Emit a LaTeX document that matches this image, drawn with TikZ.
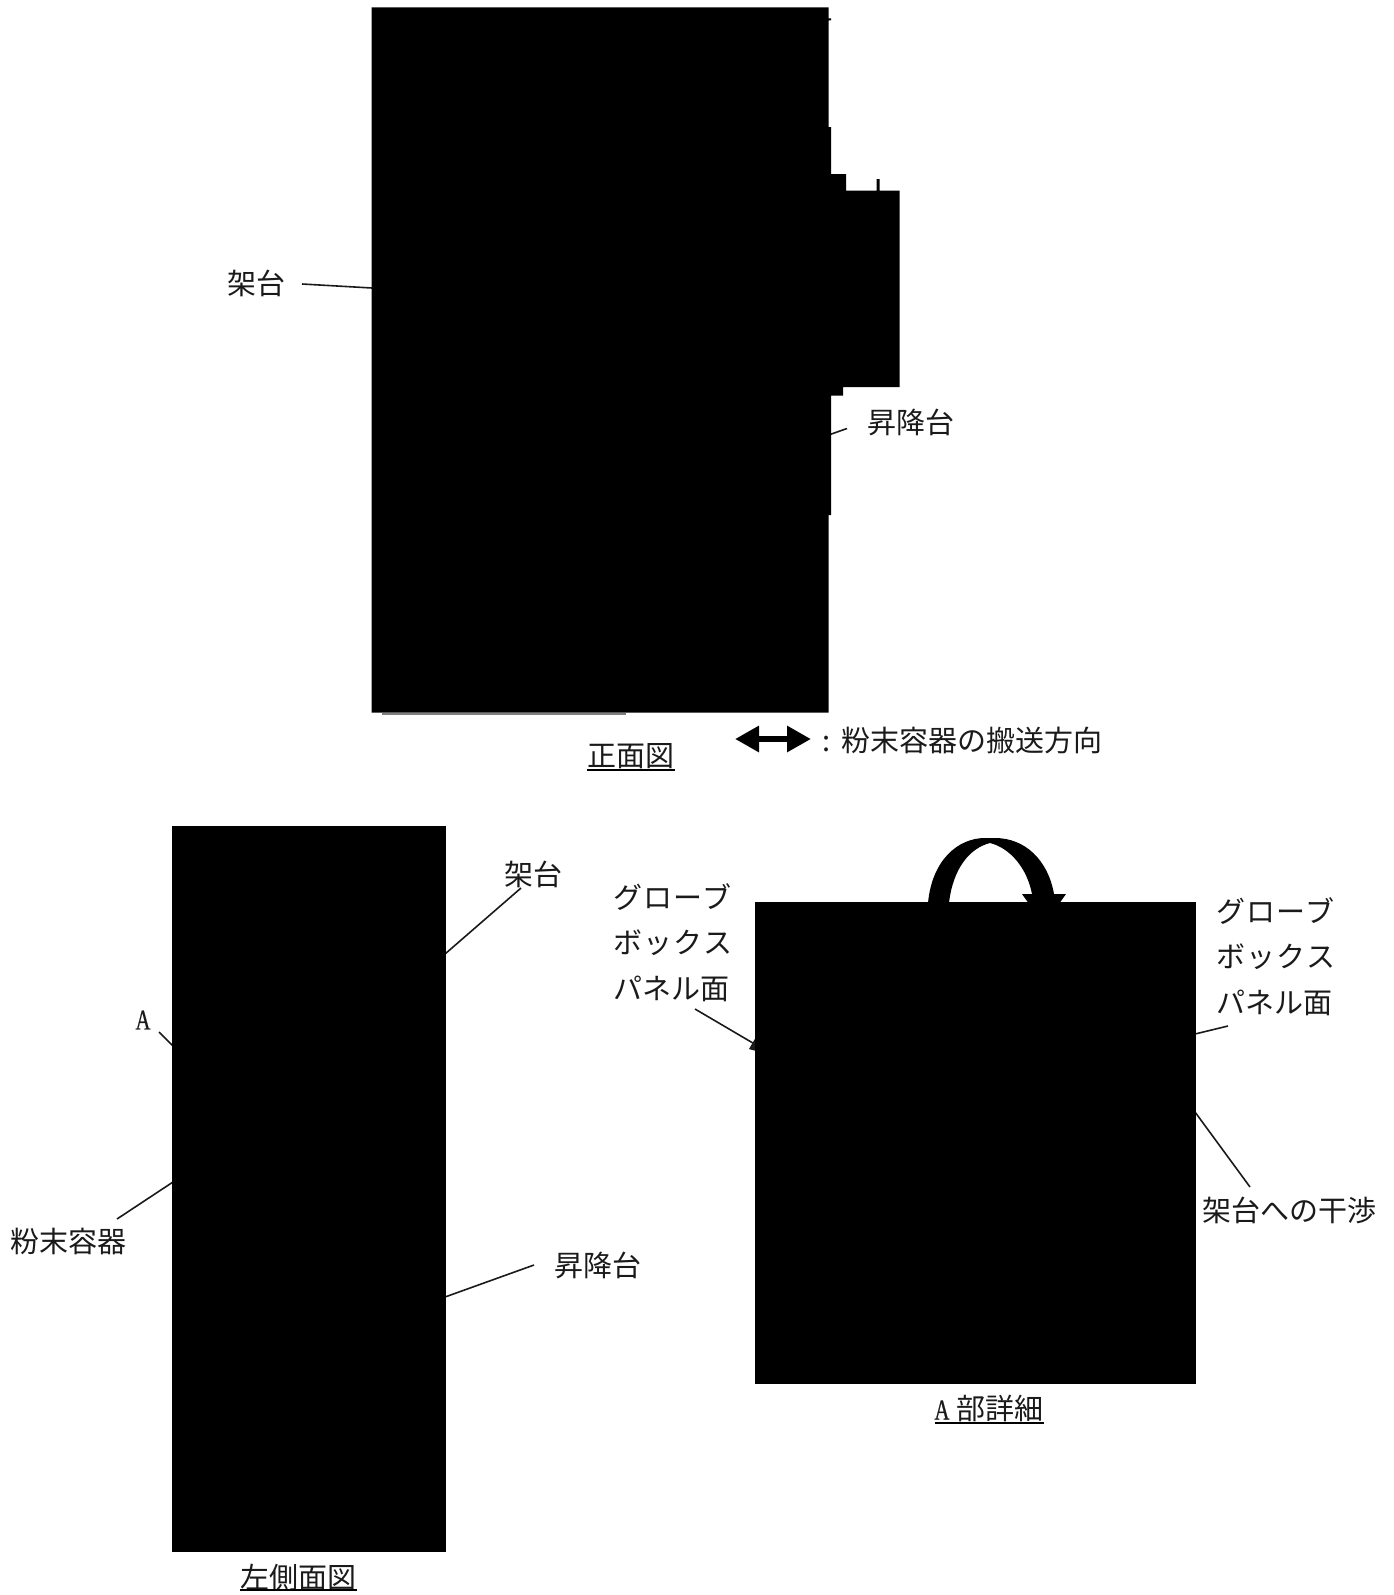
\documentclass[tikz,border=0pt]{standalone}
\usepackage{fontspec}
\usetikzlibrary{arrows.meta}
\setmainfont{Noto Sans CJK JP}
\newfontfamily\latinfont[FakeStretch=0.72,FakeBold=0.6]{Liberation Serif}
\newcommand{\trackon}{\addfontfeature{LetterSpace=5}}
\definecolor{inkc}{HTML}{1A1A1A}
\tikzset{
  lbl/.style={inner sep=0pt,outer sep=0pt,font=\fontsize{29}{30}\selectfont,text=inkc},
  blk/.style={fill=black,draw=none},
  blockbox/.style={fill=black,draw=none,inner sep=0pt,outer sep=0pt,anchor=north west},
  leader/.style={draw=inkc,line width=1.6pt},
  uline/.style={draw=black,line width=2.2pt},
}
\begin{document}
\begin{tikzpicture}[x=1pt,y=-1pt]
\useasboundingbox (0,0) rectangle (1393,1595);
% leader end points
\coordinate (fa) at (302,284);   \coordinate (fb) at (372,288);
\coordinate (la) at (847,428.5); \coordinate (lb) at (830,434.5);
\coordinate (sa) at (521,888);   \coordinate (sb) at (445,954);
\coordinate (aa) at (159,1032);  \coordinate (ab) at (173,1046);
\coordinate (pa) at (117,1219);  \coordinate (pb) at (173,1182);
\coordinate (ha) at (534,1265);  \coordinate (hb) at (445,1297);
\coordinate (ga) at (695,1009);  \coordinate (gb) at (775,1056);
\coordinate (ra) at (1228,1026); \coordinate (rb) at (1195,1034);
\coordinate (ia) at (1250,1187); \coordinate (ib) at (1195,1112);
\coordinate (dl) at (735,739);   \coordinate (dr) at (811,739);
\coordinate (u1a) at (587,770);  \coordinate (u1b) at (675,770);
\coordinate (u2a) at (240,1590); \coordinate (u2b) at (357,1590);
\coordinate (u3a) at (935,1423); \coordinate (u3b) at (1044,1423);
% leaders below the shapes
\draw[leader] (fa) -- (fb);
\draw[leader] (la) -- (lb);
\draw[leader] (sa) -- (sb);
\draw[leader] (aa) -- (ab);
\draw[leader] (pa) -- (pb);
\draw[leader] (ha) -- (hb);
\draw[leader,-{Triangle[length=26pt,width=14pt]}] (ga) -- (gb);
\draw[leader] (ra) -- (rb);
\draw[leader] (ia) -- (ib);
% front view
\fill[blk] (371.5,7.5) -- (828.7,7.5) -- (828.7,18.5) -- (831,18.5) -- (831,20.5) -- (828.7,20.5)
  -- (828.7,127) -- (831,127) -- (831,174) -- (846,174) -- (846,190.5) -- (876.5,190.5)
  -- (876.5,179) -- (879.5,179) -- (879.5,190.5) -- (899.5,190.5) -- (899.5,387) -- (843,387)
  -- (843,395.5) -- (831,395.5) -- (831,515) -- (828.7,515) -- (828.7,712.5) -- (371.5,712.5) -- cycle;
\fill[gray] (382,712.5) rectangle (626,715);
% side view
\node[blockbox,minimum width=273.5pt,minimum height=726pt] (side) at (172,826) {};
% handle on detail
\fill[blk] (928,903) .. controls (932,860) and (958,838) .. (985,838) -- (995,838)
  .. controls (1025,838) and (1048,860) .. (1054,894) -- (1066,894) -- (1044,925) -- (1022,894) -- (1032,894)
  .. controls (1027,868) and (1010,848) .. (990,843) .. controls (970,848) and (953,868) .. (949,903) -- cycle;
% detail view
\node[blockbox,minimum width=441pt,minimum height=482pt] (detail) at (755,902) {};
% labels
\node[lbl] (t1) at (256.5,283) {架台};
\node[lbl] (t2) at (911,422) {昇降台};
\node[lbl] (t3) at (631,756) {正面図};
\node[lbl,anchor=west] (t4) at (822,740.5) {\makebox[20pt][l]{:}粉末容器の搬送方向};
\node[lbl] (t5) at (533.5,874) {架台};
\node[lbl,font=\fontsize{28.6}{30}\latinfont] (t6) at (143,1020) {A};
\node[lbl] (t7) at (68.5,1241.5) {粉末容器};
\node[lbl] (t8) at (597.5,1265) {昇降台};
\node[lbl] (t9) at (298,1577) {左側面図};
\node[lbl,anchor=west] (g1) at (613,897) {\trackon グローブ};
\node[lbl,anchor=west] (g2) at (613,943) {\trackon ボックス};
\node[lbl,anchor=west] (g3) at (613,989) {パネル面};
\node[lbl,anchor=west] (r1) at (1216,911) {\trackon グローブ};
\node[lbl,anchor=west] (r2) at (1216,957) {\trackon ボックス};
\node[lbl,anchor=west] (r3) at (1216,1002.5) {パネル面};
\node[lbl] (t10) at (1289,1210) {架台への干渉};
\node[lbl] (t11) at (989,1408.5) {{\latinfont A}\hspace{7pt}部詳細};
% underlines
\draw[uline] (u1a) -- (u1b);
\draw[uline] (u2a) -- (u2b);
\draw[uline] (u3a) -- (u3b);
% transport direction arrow
\draw[line width=6pt,{Triangle[length=24pt,width=25pt]}-{Triangle[length=24pt,width=25pt]}] (dl) -- (dr);
\end{tikzpicture}
\end{document}
